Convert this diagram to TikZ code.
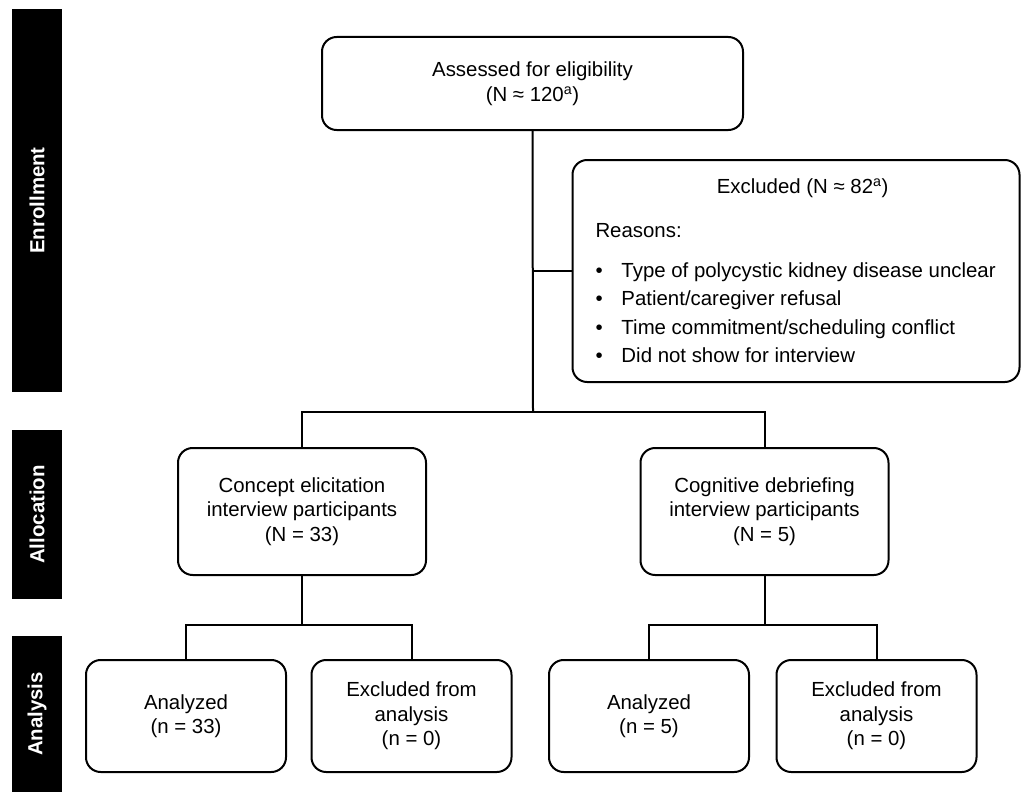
\documentclass[tikz,border=0pt]{standalone}
\usepackage{fontspec}
\setmainfont{Liberation Sans}
\usetikzlibrary{positioning}
\tikzset{
  flowbox/.style={draw, line width=1.5pt, rounded corners=11pt, align=center, inner sep=0pt},
  anbox/.style={flowbox, minimum width=150pt, minimum height=84pt},
  allocbox/.style={flowbox, minimum width=186pt, minimum height=95.25pt},
  sidebar/.style={fill=black, text=white, font=\fontsize{15.3}{18.4}\selectfont\bfseries,
                  rotate=90, inner sep=0pt, minimum height=37.5pt},
  link/.style={line width=1.5pt},
}
\begin{document}
\begin{tikzpicture}[x=0.75pt, y=-0.75pt, font=\fontsize{15.3}{18.4}\selectfont]
  \useasboundingbox (0,0) rectangle (1021,792);
  % Stage bars
  \node[sidebar, minimum width=287.25pt] (enrol) at (37,200.5) {Enrollment};
  \node[sidebar, minimum width=126.75pt] (alloc) at (37,514.5) {Allocation};
  \node[sidebar, minimum width=117pt] (analys) at (37,714) {Analysis};
  % Enrollment
  \node[flowbox, minimum width=315.75pt, minimum height=69.75pt] (assess) at (532.5,83.5)
    {Assessed for eligibility\\(N ≈ 120\textsuperscript{a})};
  \node[flowbox, minimum width=335.25pt, minimum height=166.5pt, align=left] (excl) at (796,271) {%
    \makebox[300.75pt]{\hspace{10pt}Excluded (N ≈ 82\textsuperscript{a})}\\[13.9pt]
    Reasons:\\[11.6pt]
    \makebox[19.5pt][l]{•}Type of polycystic kidney disease unclear\\[3pt]
    \makebox[19.5pt][l]{•}Patient/caregiver refusal\\[3pt]
    \makebox[19.5pt][l]{•}Time commitment/scheduling conflict\\[3pt]
    \makebox[19.5pt][l]{•}Did not show for interview};
  % Allocation
  \node[allocbox] (concept) at (302,511.5) {Concept elicitation\\interview participants\\(N = 33)};
  \node[allocbox] (cognit) at (764.5,511.5) {Cognitive debriefing\\interview participants\\(N = 5)};
  % Analysis
  \node[anbox] (ana1) at (186,716) {Analyzed\\(n = 33)};
  \node[anbox] (exa1) at (411.5,716) {Excluded from\\analysis\\(n = 0)};
  \node[anbox] (ana2) at (649,716) {Analyzed\\(n = 5)};
  \node[anbox] (exa2) at (876.5,716) {Excluded from\\analysis\\(n = 0)};
  % Connectors
  \coordinate (split) at (533,412);
  \coordinate (conceptsplit) at (302,625);
  \coordinate (cognitsplit) at (764.5,625);
  \draw[link] (assess.south) -- (split);
  \draw[link] (assess.south |- excl.west) -- (excl.west);
  \draw[link] (split) -| (concept.north);
  \draw[link] (split) -| (cognit.north);
  \draw[link] (concept.south) -- (conceptsplit);
  \draw[link] (conceptsplit) -| (ana1.north);
  \draw[link] (conceptsplit) -| (exa1.north);
  \draw[link] (cognit.south) -- (cognitsplit);
  \draw[link] (cognitsplit) -| (ana2.north);
  \draw[link] (cognitsplit) -| (exa2.north);
\end{tikzpicture}
\end{document}
